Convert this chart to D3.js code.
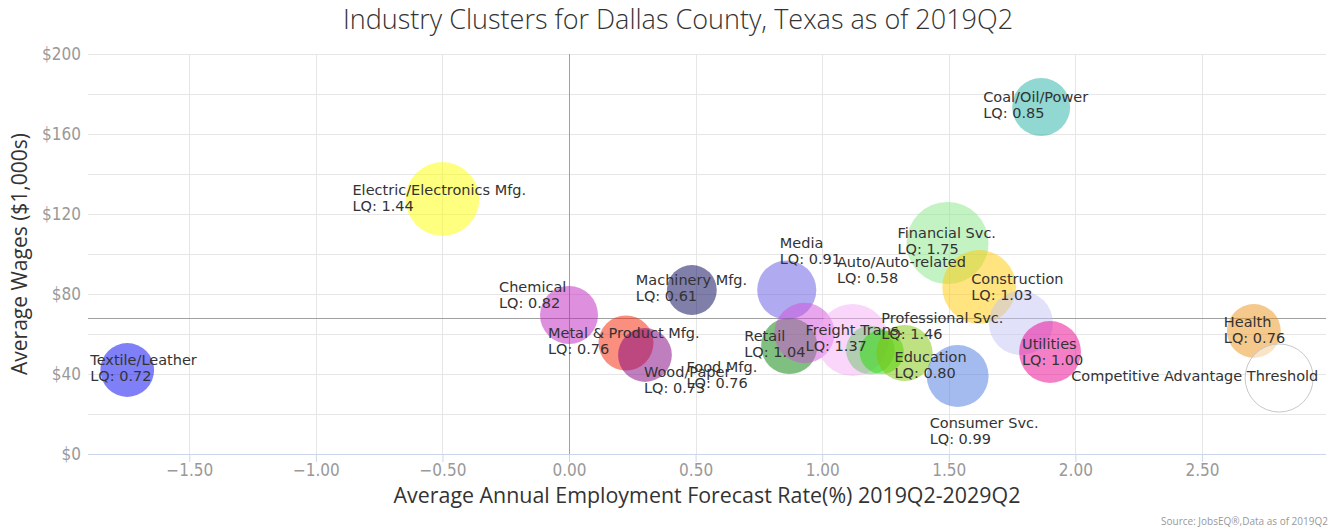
<!DOCTYPE html>
<html>
<head>
<meta charset="utf-8">
<style>
  body { margin: 0; background: #fff; }
  .grid line { stroke: #e6e6e6; shape-rendering: crispEdges; }
  .tick-label { fill: #999; font-family: "Liberation Sans Narrow", "DejaVu Sans Condensed", sans-serif; font-size: 17px; }
  .bubble-label { fill: #333; font-family: "DejaVu Sans", sans-serif; font-size: 14.5px; }
</style>
</head>
<body>
<div id="chart"></div>
<script src="https://cdn.jsdelivr.net/npm/d3@7"></script>
<script>
// cluster data
var clusters = ["Textile/Leather", "Electric/Electronics Mfg.", "Chemical", "Machinery Mfg.",
  "Metal & Product Mfg.", "Wood/Paper", "Media", "Retail", "Food Mfg.", "Freight Trans.",
  "Professional Svc.", null, "Education", "Consumer Svc.", "Financial Svc.", "Construction",
  "Auto/Auto-related", "Utilities", "Coal/Oil/Power", "Health"];
var growth = [-1.745, -0.50, 0.00, 0.485, 0.225, 0.30, 0.86, 0.87, 0.93, 1.12,
  1.19, 1.235, 1.325, 1.535, 1.495, 1.62, 1.785, 1.90, 1.865, 2.705];
var wages = [42, 127.5, 69.5, 82, 55.5, 49.5, 82, 54, 60.5, 57,
  52, 51, 50.5, 39, 105.5, 83.5, 65.5, 51, 173.5, 61.5];
var lq = ["0.72", "1.44", "0.82", "0.61", "0.76", "0.73", "0.91", "1.04", "0.76", "1.37",
  "1.46", null, "0.80", "0.99", "1.75", "1.03", "0.58", "1.00", "0.85", "0.76"];
var employment = [43, 81, 50, 37, 45, 43, 52, 47, 54, 77,
  35, 29, 47, 57, 100, 81, 61, 57, 50, 43];
var colors = ["#0000f0", "#ffff00", "#bd1fbd", "#000055", "#f52000", "#800080", "#6255e1", "#008000",
  "#d250dc", "#f5aff5", "#69c369", "#22dd00", "#7dc305", "#4a78e0", "#88e588", "#ffc900",
  "#c3c3f5", "#eb008f", "#23afa5", "#eb9119"];

var threshold = { name: "Competitive Advantage Threshold", growth: 2.805, wages: 38, employment: 69 };
var avgWage = 68;

var xTicks = [-1.5, -1.0, -0.5, 0, 0.5, 1.0, 1.5, 2.0, 2.5];
var yTicks = [0, 40, 80, 120, 160, 200];
var yGrid = [0, 20, 40, 60, 80, 100, 120, 140, 160, 180, 200];

// label placement relative to bubble centre (px)
var labelOffset = {
  "Textile/Leather": [-37, -10], "Electric/Electronics Mfg.": [-90, -9], "Chemical": [-70, -28],
  "Machinery Mfg.": [-56, -10], "Metal & Product Mfg.": [-78, -10], "Wood/Paper": [-1, 17],
  "Media": [-7, -47], "Retail": [-45, -10], "Food Mfg.": [-118, 34], "Freight Trans.": [-47, -10],
  "Professional Svc.": [11, -32], "Education": [-10, 4], "Consumer Svc.": [-28, 47],
  "Financial Svc.": [-50, -10], "Construction": [-8, -8], "Auto/Auto-related": [-184, -61],
  "Utilities": [-28, -8], "Coal/Oil/Power": [-58, -10], "Health": [-30, -9]
};

var width = 1338, height = 531;
var plot = { left: 88, right: 1326, top: 54, bottom: 454 };

var svg = d3.select("#chart").append("svg")
  .attr("width", width).attr("height", height);

var x = d3.scaleLinear().domain([-1.9, 2.99]).range([plot.left, plot.right]);
var y = d3.scaleLinear().domain([0, 200]).range([plot.bottom, plot.top]);
var r = d3.scaleSqrt().domain([0, 100]).range([0, 41]);

// grid
var grid = svg.append("g").attr("class", "grid");
grid.selectAll(".h").data(yGrid).enter().append("line")
  .attr("x1", plot.left).attr("x2", plot.right)
  .attr("y1", function (d) { return Math.round(y(d)) + 0.5; })
  .attr("y2", function (d) { return Math.round(y(d)) + 0.5; });
grid.selectAll(".v").data(xTicks).enter().append("line")
  .attr("y1", plot.top).attr("y2", plot.bottom)
  .attr("x1", function (d) { return Math.round(x(d)) + 0.5; })
  .attr("x2", function (d) { return Math.round(x(d)) + 0.5; });

// x axis
var xAxis = d3.axisBottom(x).tickValues(xTicks).tickFormat(d3.format(".2f")).tickSize(6).tickPadding(4);
var gx = svg.append("g").attr("transform", "translate(0," + plot.bottom + ")").call(xAxis);
gx.select(".domain").attr("stroke", "#ccd6eb").attr("d", "M" + plot.left + ",0.5H" + plot.right);
gx.selectAll(".tick line").attr("stroke", "#ccd6eb").attr("y2", 8);
gx.selectAll(".tick text").attr("class", "tick-label").attr("font-family", null).attr("font-size", null);

// y axis
var yAxis = d3.axisLeft(y).tickValues(yTicks).tickFormat(function (d) { return "$" + d; }).tickSize(0).tickPadding(7);
var gy = svg.append("g").attr("transform", "translate(" + plot.left + ",0)").call(yAxis);
gy.select(".domain").remove();
gy.selectAll(".tick text").attr("class", "tick-label").attr("font-family", null).attr("font-size", null);

// reference lines
svg.append("line")
  .attr("x1", plot.left).attr("x2", plot.right)
  .attr("y1", Math.round(y(avgWage)) + 0.5).attr("y2", Math.round(y(avgWage)) + 0.5)
  .attr("stroke", "#a0a0a0").attr("stroke-width", 1);
svg.append("line")
  .attr("y1", plot.top).attr("y2", plot.bottom)
  .attr("x1", Math.round(x(0)) + 0.5).attr("x2", Math.round(x(0)) + 0.5)
  .attr("stroke", "#a0a0a0").attr("stroke-width", 1);

var points = clusters.map(function (c, i) {
  return { name: c, growth: growth[i], wages: wages[i], lq: lq[i], employment: employment[i], color: colors[i] };
});

// bubbles
svg.append("g").selectAll("circle").data(points).enter().append("circle")
  .attr("cx", function (d) { return x(d.growth); })
  .attr("cy", function (d) { return y(d.wages); })
  .attr("r", function (d) { return r(d.employment); })
  .attr("fill", function (d) { return d.color; })
  .attr("fill-opacity", 0.5);

svg.append("circle")
  .attr("cx", x(threshold.growth)).attr("cy", y(threshold.wages)).attr("r", r(threshold.employment))
  .attr("fill", "#fff").attr("fill-opacity", 0.5)
  .attr("stroke", "#c8c8c8").attr("stroke-width", 1);

// labels
var lbl = svg.append("g").selectAll("text").data(points.filter(function (d) { return d.name; }))
  .enter().append("text").attr("class", "bubble-label")
  .attr("transform", function (d) {
    var o = labelOffset[d.name];
    return "translate(" + (x(d.growth) + o[0]) + "," + (y(d.wages) + o[1] + 5) + ")";
  });
lbl.append("tspan").attr("x", 0).attr("y", 0).text(function (d) { return d.name; });
lbl.append("tspan").attr("x", 0).attr("y", 15.5).text(function (d) { return "LQ: " + d.lq; });

svg.append("text").attr("class", "bubble-label")
  .attr("x", x(threshold.growth) - 208).attr("y", y(threshold.wages) + 3)
  .text(threshold.name);

// titles
svg.append("text")
  .attr("x", 678).attr("y", 29).attr("text-anchor", "middle")
  .attr("font-family", "Open Sans, sans-serif").attr("font-weight", 300)
  .attr("font-size", 27).attr("fill", "#333")
  .text("Industry Clusters for Dallas County, Texas as of 2019Q2");

svg.append("text")
  .attr("x", (plot.left + plot.right) / 2).attr("y", 503).attr("text-anchor", "middle")
  .attr("font-family", "Open Sans, sans-serif").attr("font-size", 21.4).attr("fill", "#333")
  .text("Average Annual Employment Forecast Rate(%) 2019Q2-2029Q2");

svg.append("text")
  .attr("transform", "translate(27," + ((plot.top + plot.bottom) / 2) + ") rotate(-90)")
  .attr("text-anchor", "middle")
  .attr("font-family", "Open Sans, sans-serif").attr("font-size", 21).attr("fill", "#333")
  .text("Average Wages ($1,000s)");

svg.append("text")
  .attr("x", 1328).attr("y", 525).attr("text-anchor", "end")
  .attr("font-family", "Open Sans, sans-serif").attr("font-size", 10).attr("fill", "#999")
  .text("Source: JobsEQ\u00ae,Data as of 2019Q2");
</script>
</body>
</html>
